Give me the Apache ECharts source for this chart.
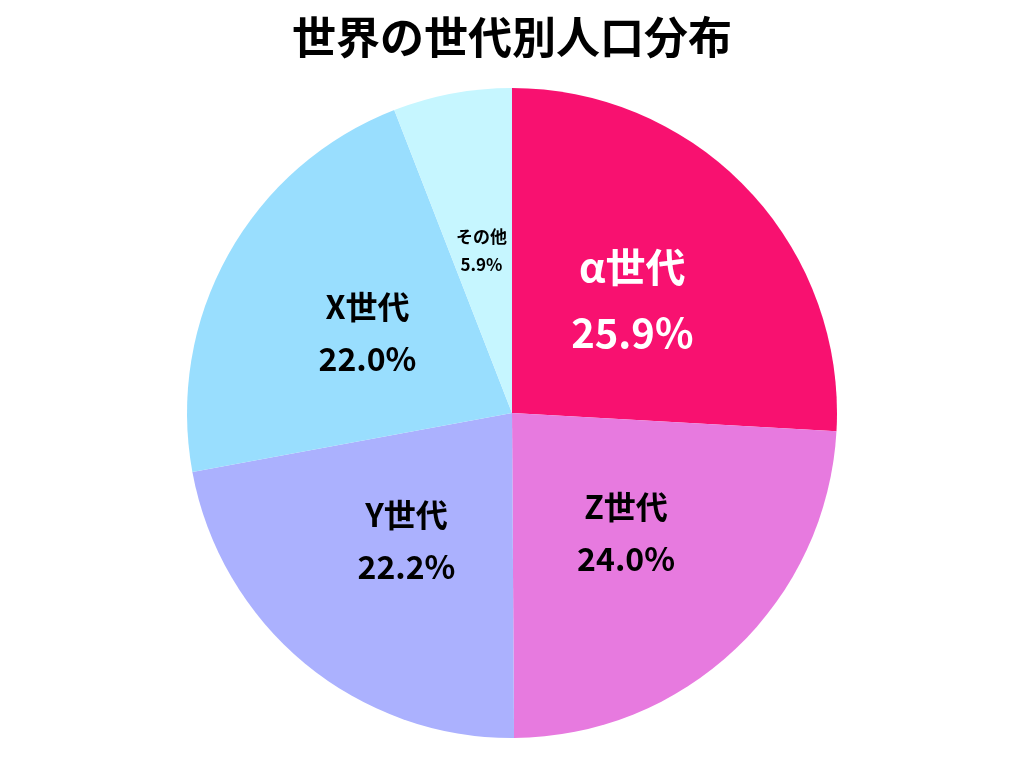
<!DOCTYPE html>
<html><head><meta charset="utf-8">
<script src="https://cdn.jsdelivr.net/npm/echarts@6/dist/echarts.min.js"></script>
<style>html,body{margin:0;background:#fff}#c{width:1024px;height:768px}</style>
</head><body><div id="c"></div>
<script>
const categories = ['α世代','Z世代','Y世代','X世代','その他'];
const values = [25.9, 24.0, 22.2, 22.0, 5.9];
const colors = ['#F81170','#E77ADF','#ABB1FE','#99DEFE','#C6F6FF'];
const font = '"Noto Sans CJK JP", "Noto Sans", sans-serif';
const chart = echarts.init(document.getElementById('c'));
chart.setOption({
  animation:false,
  title:{text:'世界の世代別人口分布',left:'center',top:10,textStyle:{fontFamily:font,fontWeight:'bold',fontSize:44,color:'#000'}},
  series:[{
    type:'pie',center:[512,413],radius:325,startAngle:90,clockwise:true,
    itemStyle:{borderColor:'#fff',borderWidth:0},
    label:{position:'inside',fontFamily:font,fontWeight:'bold',color:'#000',fontSize:32,lineHeight:52,
      formatter:p=>p.name+'\n'+p.value.toFixed(1)+'%'},
    data:categories.map((c,i)=>{
      const d={name:c,value:values[i],itemStyle:{color:colors[i]}};
      if(i===0) d.label={color:'#fff',fontSize:40,lineHeight:66};
      if(i===4) d.label={fontSize:17,lineHeight:28};
      return d;
    })
  }]
});
</script></body></html>
